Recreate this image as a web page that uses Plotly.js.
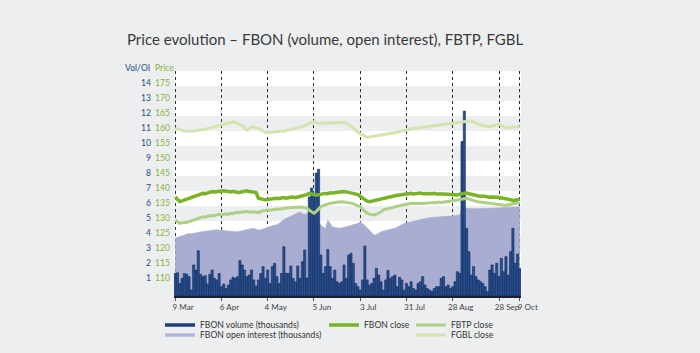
<!DOCTYPE html>
<html>
<head>
<meta charset="utf-8">
<script src="https://cdn.plot.ly/plotly-3.0.1.min.js"></script>
<style>html,body{margin:0;padding:0;background:#eceef0;}#chart{width:700px;height:353px;}</style>
</head>
<body>
<div id="chart"></div>
<script>
// x tick labels (trading-day index positions)
const tickLabels = ['9 Mar','6 Apr','4 May','5 Jun','3 Jul','31 Jul','28 Aug','28 Sep','9 Oct'];
const tickIdx = [0,20,40,60,80,100,120,140,149];

// FBON volume (thousands)
const fbonVolume = [
1.5,1.55,0.84,1.18,1.5,1.45,1.29,0.4,2.07,1.73,
3.02,1.45,1.29,1.35,0.8,1.45,1.73,1.18,1.07,1.5,
0.62,0.8,0.5,0.73,1.07,1.25,1.18,1.29,2.36,2.07,
1.73,1.29,1.4,1.73,1.07,0.66,1.07,1.5,1.96,1.18,
1.73,0.84,1.96,2.18,1.29,0.84,1.51,3.29,1.51,1.51,
2.0,1.18,0.95,2.0,1.18,2.29,3.07,1.2,6.6,7.2,
6.7,8.2,8.45,2.73,1.51,1.96,3.1,1.96,1.18,1.73,
0.95,0.84,0.95,2.07,1.18,2.73,2.84,2.18,0.84,0.62,
0.4,1.07,3.33,1.07,0.73,0.84,1.18,1.85,1.4,0.95,
0.4,1.07,1.7,1.18,1.29,1.4,0.62,1.25,1.07,0.4,
0.84,0.62,0.95,0.5,0.4,0.84,0.95,1.29,0.73,0.5,
0.4,0.3,0.5,0.62,0.62,1.18,1.29,0.62,0.73,0.51,
0.62,0.96,1.62,1.51,10.3,12.33,4.51,2.96,1.4,1.96,
1.29,1.07,0.96,0.84,0.62,0.29,1.73,2.07,1.51,2.18,
1.29,2.51,1.62,2.62,1.4,2.96,4.51,2.18,2.8,1.84];

// FBON open interest (thousands)
const fbonOpenInterest = [
3.85,3.9,3.98,4.05,4.08,4.12,4.18,4.15,4.2,4.22,
4.25,4.28,4.3,4.33,4.35,4.38,4.4,4.4,4.42,4.38,
4.4,4.36,4.35,4.3,4.33,4.28,4.3,4.29,4.32,4.36,
4.4,4.45,4.48,4.5,4.51,4.45,4.4,4.42,4.48,4.55,
4.6,4.62,4.68,4.72,4.75,4.85,5.0,5.1,5.18,5.25,
5.32,5.4,5.48,5.55,5.62,5.5,5.45,5.51,5.6,5.65,
5.55,5.3,5.0,4.73,4.6,4.51,5.07,4.8,4.62,4.58,
4.55,4.51,4.55,4.58,4.6,4.62,4.7,4.76,4.8,4.84,
4.95,4.85,4.7,4.55,4.4,4.25,4.07,4.1,4.2,4.29,
4.33,4.38,4.4,4.45,4.48,4.51,4.6,4.68,4.75,4.84,
4.88,4.92,4.95,5.0,5.03,5.07,5.1,5.14,5.18,5.2,
5.22,5.24,5.26,5.28,5.3,5.31,5.3,5.32,5.33,5.34,
5.35,5.36,5.38,5.4,5.8,5.85,5.86,5.84,5.85,5.83,
5.84,5.82,5.85,5.86,5.84,5.85,5.87,5.85,5.86,5.88,
5.86,5.88,5.9,5.89,5.91,5.92,5.93,5.94,5.95,5.95];

// FBON close
const fbonClose = [
138.0,137.2,136.5,136.7,137.0,137.3,137.5,137.7,138.1,138.5,
138.8,139.0,139.2,139.1,139.4,139.6,139.8,139.7,139.9,140.1,
140.0,140.1,139.9,139.8,139.7,139.9,139.6,139.5,139.6,139.8,
140.0,140.1,139.8,139.6,139.4,139.5,137.6,137.3,137.2,137.1,
137.2,137.4,137.3,137.5,137.6,137.5,137.7,137.8,137.6,137.9,
137.9,138.0,137.8,138.0,138.2,138.1,138.4,138.8,139.2,139.0,
138.7,138.6,138.8,139.0,139.0,139.2,139.1,139.4,139.3,139.4,
139.6,139.5,139.7,139.8,139.7,139.5,139.3,139.2,139.0,138.8,
138.2,137.6,137.0,136.6,136.4,136.6,136.8,137.0,137.1,137.3,
137.5,137.7,137.9,138.1,138.3,138.4,138.6,138.7,138.9,139.0,
139.0,139.1,139.2,139.0,139.2,139.2,139.3,139.1,139.2,139.3,
139.2,139.1,139.2,139.0,138.9,139.0,139.0,138.8,138.9,138.8,
138.7,138.8,138.7,138.9,139.0,139.2,139.3,139.1,138.9,138.7,
138.4,138.3,138.2,138.3,138.1,138.0,137.9,138.0,137.8,137.9,
137.8,137.7,137.6,137.4,137.3,137.1,136.8,136.9,137.1,137.3];

// FBTP close
const fbtpClose = [
130.3,129.6,129.2,129.4,129.6,129.5,129.8,130.1,130.4,130.7,
131.0,131.2,131.4,131.3,131.6,131.8,131.7,131.9,132.0,132.2,
132.1,132.3,132.4,132.2,132.6,132.5,132.7,132.9,132.8,133.1,
133.0,133.2,133.1,132.9,133.1,133.0,132.8,133.2,133.4,133.5,
133.7,133.6,133.8,133.9,134.0,133.9,134.1,134.2,134.3,134.4,
134.5,134.4,134.6,134.8,134.7,134.6,134.5,134.3,133.6,133.0,
132.6,133.2,134.0,134.8,135.1,135.4,135.6,135.9,136.0,136.2,
136.3,136.4,136.3,136.4,136.2,136.1,136.1,135.8,135.4,135.0,
134.8,134.0,133.2,132.6,132.3,132.1,132.0,132.3,132.6,133.0,
133.7,133.9,134.2,134.4,134.6,134.9,135.0,135.2,135.4,135.5,
135.6,135.8,135.9,135.8,135.9,136.0,135.9,135.8,135.9,136.0,
136.1,136.0,136.2,136.1,136.3,136.2,136.3,136.4,136.3,136.4,
136.6,136.8,137.0,137.2,137.3,137.5,137.6,137.3,137.0,136.8,
136.6,136.4,136.3,136.2,136.0,136.1,135.9,135.8,135.6,135.5,
135.4,135.3,135.3,135.2,135.4,135.5,135.6,135.7,135.9,136.1];

// FGBL close
const fgblClose = [
160.9,160.6,160.4,160.2,160.0,159.9,159.8,159.9,160.0,160.1,
160.3,160.2,160.4,160.6,160.8,161.0,161.2,161.4,161.5,161.8,
162.0,162.3,162.5,162.7,162.9,163.1,162.9,162.6,162.3,161.8,
161.0,160.3,160.8,161.4,161.3,161.1,160.9,160.4,159.8,159.5,
159.4,159.5,159.7,159.6,159.8,159.8,160.0,159.9,160.1,160.3,
160.3,160.6,160.8,161.0,161.2,161.4,161.7,162.0,162.5,163.0,
163.1,162.8,162.6,162.7,162.5,162.6,162.8,162.7,162.6,162.7,
162.8,162.9,162.7,162.8,162.6,162.2,161.6,161.0,160.3,159.6,
159.0,158.7,158.2,157.9,158.0,158.2,158.3,158.5,158.6,158.7,
158.8,158.9,159.1,159.2,159.3,159.4,159.6,159.8,160.0,160.2,
160.4,160.6,160.6,160.8,160.9,161.0,161.2,161.3,161.4,161.5,
161.6,161.7,161.8,161.9,162.1,162.2,162.3,162.3,162.4,162.5,
162.6,162.6,162.8,162.9,163.0,163.1,163.2,163.4,163.4,163.0,
162.6,162.2,162.0,161.8,161.6,161.5,161.4,161.6,161.9,162.1,
162.2,161.8,161.4,161.1,161.2,161.3,161.2,161.3,161.4,161.4];

const volTicks = [1,2,3,4,5,6,7,8,9,10,11,12,13,14];
const priceTicks = [110,115,120,125,130,135,140,145,150,155,160,165,170,175];

const idx = fbonVolume.map((_, i) => i);

const C = {
  vol: '#26508f', volLine: '#10295a', oi: '#a8add1', oiLeg: '#b4b8d8',
  fbon: '#78b426', fbtp: '#afcf86', fgbl: '#d4e4b0', bg: '#eceef0'
};
const FONT = 'Lato, Open Sans, sans-serif';

const traces = [
  {type:'scatter', mode:'lines', x: idx, y: fbonOpenInterest, fill:'tozeroy',
   fillcolor: C.oi, line:{color: C.oi, width:0.5}, showlegend:false, hoverinfo:'skip', yaxis:'y'},
  {type:'bar', x: idx, y: fbonVolume, marker:{color: C.vol, line:{color: C.volLine, width:0.6}},
   showlegend:false, yaxis:'y2'},
  {type:'scatter', mode:'lines', x: idx, y: fgblClose, name:'FGBL close',
   line:{color: C.fgbl, width:3}, yaxis:'y3', legend:'legend5'},
  {type:'scatter', mode:'lines', x: idx, y: fbtpClose, name:'FBTP close',
   line:{color: C.fbtp, width:3}, yaxis:'y3', legend:'legend4'},
  {type:'scatter', mode:'lines', x: idx, y: fbonClose, name:'FBON close',
   line:{color: C.fbon, width:3.5}, yaxis:'y3', legend:'legend3'},
  {type:'scatter', mode:'lines', x:[null], y:[null], name:'FBON volume (thousands)',
   line:{color:'#1d3d78', width:3.5}, legend:'legend'},
  {type:'scatter', mode:'lines', x:[null], y:[null], name:'FBON open interest (thousands)',
   line:{color: C.oiLeg, width:3.5}, legend:'legend2'}
];

const bands = [];
for (let k = 0; k <= 14; k += 2) {
  bands.push({type:'rect', xref:'paper', x0:0, x1:1, yref:'y', y0:k, y1:k+1,
    fillcolor:'#ffffff', line:{width:0}, layer:'below'});
}

const PW = 347, PL = 174;
function lx(textX){ return (textX - 40 - PL) / PW; }
function ly(centerY){ return (296 - centerY) / 225; }
const legBase = {bgcolor:'rgba(0,0,0,0)', borderwidth:0, font:{family:FONT, size:8.6, color:'#333'},
  xanchor:'left', yanchor:'middle', orientation:'v', itemwidth:30};

const layout = {
  width:700, height:353,
  margin:{l:174, r:179, t:71, b:57, pad:0, autoexpand:false},
  paper_bgcolor: C.bg, plot_bgcolor: C.bg,
  font:{family:FONT, color:'#333'},
  title:{text:'Price evolution – FBON (volume, open interest), FBTP, FGBL',
    xref:'container', x:127/700, xanchor:'left', yref:'container', y:1-40/353, yanchor:'middle',
    font:{family:FONT, size:15, color:'#3a3a3a'}},
  showlegend:true,
  bargap:0.08,
  xaxis:{range:[-0.5,149.5], tickmode:'array', tickvals: tickIdx, ticktext: tickLabels, tickangle:0,
    showgrid:true, gridcolor:'#2e2e2e', griddash:'dot', gridwidth:1,
    showline:true, linecolor:'#1b1f33', linewidth:1.5, zeroline:false,
    ticks:'outside', ticklen:3, tickcolor:'#555', ticklabelshift:8,
    tickfont:{family:FONT, size:8.1, color:'#444'}},
  yaxis:{range:[0,15], tickmode:'array', tickvals: volTicks, showgrid:false, zeroline:false,
    showline:false, ticks:'', tickfont:{family:FONT, size:8.6, color:'#2b4f80'},
    ticklabelstandoff:22, ticklabelshift:-3},
  yaxis2:{range:[0,15], overlaying:'y', side:'left', visible:false, showgrid:false, zeroline:false},
  yaxis3:{range:[105,180], overlaying:'y', side:'left', tickmode:'array', tickvals: priceTicks,
    showgrid:false, zeroline:false, showline:false, ticks:'',
    tickfont:{family:FONT, size:8.6, color:'#8ab43c'}, ticklabelstandoff:3, ticklabelshift:-3},
  shapes: bands,
  annotations:[
    {xref:'paper', yref:'paper', x:(152-PL)/PW, y:(296-68)/225, xanchor:'right', yanchor:'middle',
     text:'Vol/OI', showarrow:false, font:{family:FONT, size:8.6, color:'#2b4f80'}},
    {xref:'paper', yref:'paper', x:(153-PL)/PW, y:(296-68)/225, xanchor:'left', yanchor:'middle',
     text:'Price', showarrow:false, font:{family:FONT, size:8.6, color:'#8ab43c'}}
  ],
  legend:  Object.assign({}, legBase, {x:lx(200), y:ly(325)}),
  legend2: Object.assign({}, legBase, {x:lx(200), y:ly(335)}),
  legend3: Object.assign({}, legBase, {x:lx(364), y:ly(325)}),
  legend4: Object.assign({}, legBase, {x:lx(451), y:ly(325)}),
  legend5: Object.assign({}, legBase, {x:lx(451), y:ly(335)})
};

Plotly.newPlot('chart', traces, layout, {displayModeBar:false, staticPlot:true});
</script>
</body>
</html>
